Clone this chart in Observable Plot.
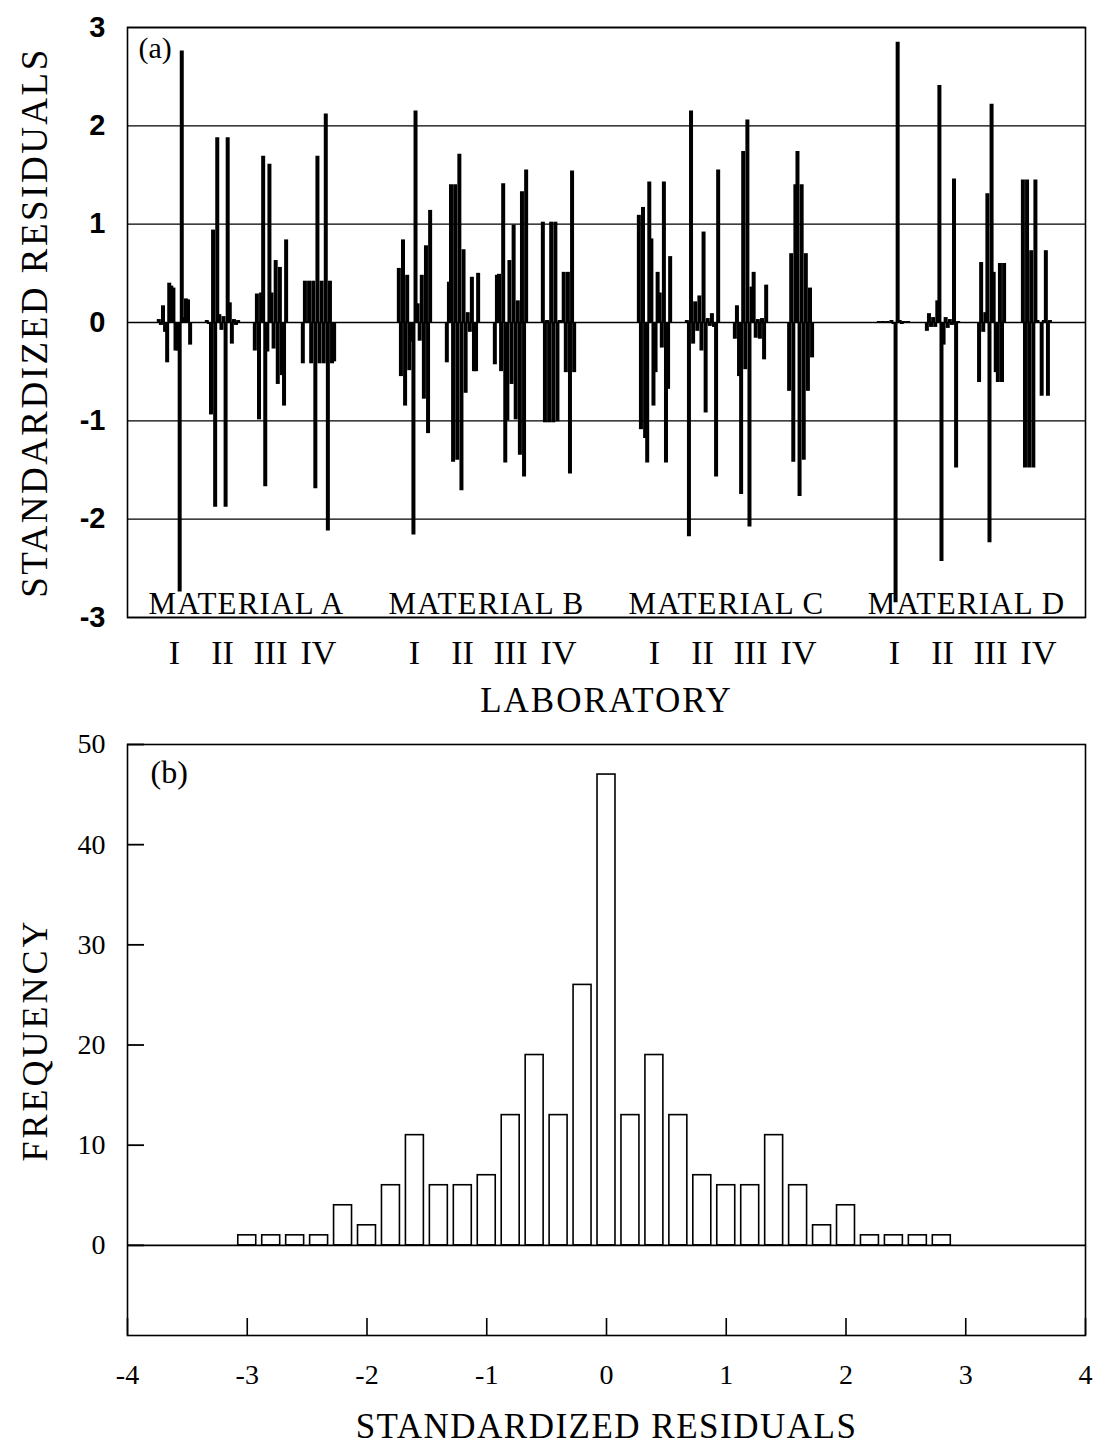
<!DOCTYPE html>
<html>
<head>
<meta charset="utf-8">
<script src="https://cdn.jsdelivr.net/npm/d3@7"></script>
<script src="https://cdn.jsdelivr.net/npm/@observablehq/plot@0.6"></script>
<style>
  html, body { margin: 0; padding: 0; background: #ffffff; }
  #chart { width: 1096px; }
  #chart svg { display: block; overflow: visible; }
</style>
</head>
<body>
<div id="chart"></div>
<script>
// ---------------- data ----------------
const materials = ["MATERIAL A", "MATERIAL B", "MATERIAL C", "MATERIAL D"];
const labs = ["I", "II", "III", "IV"];

// standardized residuals, per material: one list per laboratory (I..IV), in plotting order
const residualsA = [
  [0.03, -0.03, 0.17, -0.10, -0.41, 0.40, 0.37, 0.35, -0.29, -0.29, -2.74, 2.76, 0.05, 0.24, 0.23, -0.23],
  [0.02, -0.02, -0.94, 0.94, -1.88, 1.88, 0.08, -0.08, 0.06, -1.88, 1.88, 0.20, -0.22, 0.03, -0.03, 0.02],
  [-0.29, 0.29, -0.99, 0.30, 1.69, -1.67, -0.30, 1.61, 0.30, -0.27, 0.63, -0.63, 0.56, -0.54, -0.85, 0.84],
  [-0.42, 0.42, 0.01, 0.42, -0.42, 0.42, -1.69, 1.69, -0.42, 0.42, -0.42, 2.12, -2.12, 0.42, -0.42, -0.40]
];
const residualsB = [
  [0.55, -0.55, 0.84, -0.85, 0.48, -0.49, -0.20, -2.16, 2.15, 0.19, -0.19, 0.48, -0.78, 0.78, -1.13, 1.14],
  [-0.41, 0.41, 1.40, -1.42, 1.40, -1.40, 1.71, -1.71, 0.74, -0.72, 0.10, -0.10, 0.46, -0.50, -0.50, 0.50],
  [-0.43, 0.48, 0.49, -0.50, 1.41, -1.43, -1.00, 0.63, -0.63, 0.99, -0.99, 0.22, -1.35, 1.33, -1.57, 1.55],
  [1.02, -1.02, 0.02, -1.02, 1.02, -1.02, 1.02, -1.01, 0.02, 0.02, 0.51, -0.51, 0.51, -1.54, 1.54, -0.51]
];
const residualsC = [
  [1.09, -1.09, 1.17, -1.18, -1.43, 1.43, 0.85, -0.85, -0.51, 0.51, 0.30, -0.26, 1.43, -1.43, -0.68, 0.67],
  [0.02, -2.18, 2.15, -0.22, 0.21, -0.09, 0.27, -0.29, 0.92, -0.92, 0.04, -0.04, 0.09, -0.05, -1.57, 1.55],
  [-0.17, 0.17, -0.55, -1.75, 1.74, -0.48, 2.06, -2.08, 0.36, 0.51, -0.16, 0.03, -0.17, 0.04, -0.38, 0.38],
  [0, 0, 0, -0.70, 0.70, -1.42, 1.40, 1.74, -1.77, 1.40, -1.40, 0.70, -0.70, 0.35, -0.36, 0]
];
const residualsD = [
  [0.01, -0.01, 0.01, -0.01, 0.01, -0.01, 0.02, -0.02, -2.85, 2.85, 0.02, -0.02, 0.01, -0.01, 0.01, -0.01],
  [-0.09, 0.09, -0.05, 0.05, -0.05, 0.22, 2.41, -2.43, -0.23, 0.05, -0.06, 0.03, -0.03, 1.46, -1.48, 0.01],
  [0, 0, -0.61, 0.61, -0.10, 0.10, 1.31, -2.24, 2.22, 0.51, -0.51, -0.61, 0.60, -0.61, 0.60, 0],
  [1.45, -1.48, 1.45, -1.48, 0.73, -1.48, 1.45, 0.02, 0, -0.75, 0.02, 0.73, -0.75, 0.02, 0, 0]
];
const yTicksA = [-3, -2, -1, 0, 1, 2, 3];

// histogram of standardized residuals
const binCenters = [-3.0, -2.8, -2.6, -2.4, -2.2, -2.0, -1.8, -1.6, -1.4, -1.2, -1.0, -0.8, -0.6, -0.4, -0.2,
                    0.0, 0.2, 0.4, 0.6, 0.8, 1.0, 1.2, 1.4, 1.6, 1.8, 2.0, 2.2, 2.4, 2.6, 2.8];
const frequencies = [1, 1, 1, 1, 4, 2, 6, 11, 6, 6, 7, 13, 19, 13, 26,
                     47, 13, 19, 13, 7, 6, 6, 11, 6, 2, 4, 1, 1, 1, 1];
const xTicksB = [-4, -3, -2, -1, 0, 1, 2, 3, 4];
const yTicksB = [0, 10, 20, 30, 40, 50];

// ---------------- layout helpers (sample-order axis) ----------------
const LAB_PITCH = 23;        // sample slots from one laboratory to the next
const MATERIAL_PITCH = 115;  // sample slots from one material to the next
const SAMPLES = 16;
const allResiduals = [residualsA, residualsB, residualsC, residualsD];

const residualRows = [];
allResiduals.forEach((mat, mi) => mat.forEach((lab, li) => lab.forEach((v, k) => {
  residualRows.push({slot: mi * MATERIAL_PITCH + li * LAB_PITCH + k, value: v});
})));
const labRows = [];
materials.forEach((m, mi) => labs.forEach((l, li) => {
  labRows.push({slot: mi * MATERIAL_PITCH + li * LAB_PITCH + (SAMPLES - 1) / 2, label: l});
}));
const materialRows = materials.map((m, mi) => ({
  slot: mi * MATERIAL_PITCH + (3 * LAB_PITCH + SAMPLES - 1) / 2, label: m
}));

const serif = "'Liberation Serif', 'Times New Roman', serif";
const sans = "'Liberation Sans', Arial, sans-serif";

// ---------------- panel (a) ----------------
const chartA = Plot.plot({
  width: 1096,
  height: 720,
  marginTop: 27,
  marginBottom: 103,
  marginLeft: 127,
  marginRight: 11,
  style: {fontFamily: serif, fontSize: "28px", color: "#000", background: "#fff"},
  x: {domain: [-15, 444], axis: null},
  y: {domain: [-3, 3], axis: null},
  marks: [
    Plot.ruleY(yTicksA, {stroke: "#000", strokeWidth: 1.3}),
    Plot.ruleX(residualRows, {x: "slot", y1: 0, y2: "value", stroke: "#000", strokeWidth: 4}),
    Plot.frame({stroke: "#000", strokeWidth: 1.6}),
    Plot.axisY({ticks: yTicksA, tickSize: 0, tickPadding: 22, tickFormat: d => String(d),
                fontFamily: sans, fontSize: 29, fontWeight: "bold", label: null}),
    Plot.text(materialRows, {x: "slot", text: "label", frameAnchor: "bottom", lineAnchor: "bottom",
                             dy: -4, fontSize: 31, fontFamily: serif}),
    Plot.text(labRows, {x: "slot", text: "label", frameAnchor: "bottom", lineAnchor: "bottom",
                        dy: 46, fontSize: 34, fontFamily: serif}),
    Plot.text(["LABORATORY"], {frameAnchor: "bottom", lineAnchor: "bottom", dy: 94,
                               fontSize: 35, fontFamily: serif}),
    Plot.text(["STANDARDIZED RESIDUALS"], {frameAnchor: "left", textAnchor: "middle", rotate: -90, dx: -92,
                               fontSize: 37, fontFamily: serif}),
    Plot.text(["(a)"], {frameAnchor: "top-left", textAnchor: "start", lineAnchor: "top",
                        dx: 11, dy: 9, fontSize: 30, fontFamily: serif})
  ]
});

// ---------------- panel (b) ----------------
const HALF_BAR = 0.075;
const histRows = binCenters.map((c, i) => ({x1: c - HALF_BAR, x2: c + HALF_BAR, count: frequencies[i]}));
const PLOT_B_INNER_WIDTH = 1096 - 127 - 11;
const TICK_LEN = 17;

const chartB = Plot.plot({
  width: 1096,
  height: 727,
  marginTop: 24,
  marginBottom: 112,
  marginLeft: 127,
  marginRight: 11,
  style: {fontFamily: serif, fontSize: "28px", color: "#000", background: "#fff"},
  x: {domain: [-4, 4], axis: null},
  y: {domain: [-9, 50], axis: null},
  marks: [
    Plot.rectY(histRows, {x1: "x1", x2: "x2", y1: 0, y2: "count", fill: "#fff", stroke: "#000", strokeWidth: 1.6}),
    Plot.ruleY([0], {stroke: "#000", strokeWidth: 1.6}),
    Plot.frame({stroke: "#000", strokeWidth: 1.6}),
    Plot.tickY(yTicksB, {y: d => d, stroke: "#000", strokeWidth: 1.8,
                         insetRight: PLOT_B_INNER_WIDTH - TICK_LEN}),
    Plot.axisX({ticks: xTicksB, tickSize: -TICK_LEN, tickPadding: 46, tickFormat: d => String(d),
                fontFamily: serif, fontSize: 28, strokeWidth: 1.6, label: null}),
    Plot.axisY({ticks: yTicksB, tickSize: 0, tickPadding: 22, tickFormat: d => String(d),
                fontFamily: serif, fontSize: 28, label: null}),
    Plot.text(["FREQUENCY"], {frameAnchor: "left", textAnchor: "middle", rotate: -90, dx: -92,
                              fontSize: 36, fontFamily: serif}),
    Plot.text(["STANDARDIZED RESIDUALS"], {frameAnchor: "bottom", lineAnchor: "bottom", dy: 102,
                              fontSize: 35, fontFamily: serif}),
    Plot.text(["(b)"], {frameAnchor: "top-left", textAnchor: "start", lineAnchor: "top",
                        dx: 23, dy: 16, fontSize: 32, fontFamily: serif})
  ]
});

// letter spacing of the serif titles (typographic style only)
const spacing = {"LABORATORY": 2, "STANDARDIZED RESIDUALS": 2.5, "FREQUENCY": 3,
                 "MATERIAL A": 1.2, "MATERIAL B": 1.2, "MATERIAL C": 1.2, "MATERIAL D": 1.2};
[chartA, chartB].forEach(svg => {
  d3.select(svg).selectAll("text").each(function () {
    const s = spacing[this.textContent];
    if (s != null) this.style.letterSpacing = s + "px";
  });
});
d3.select(chartB).selectAll("text").each(function () {
  if (this.textContent === "STANDARDIZED RESIDUALS") this.style.letterSpacing = "1.5px";
});

const root = document.getElementById("chart");
root.appendChild(chartA);
root.appendChild(chartB);
</script>
</body>
</html>
